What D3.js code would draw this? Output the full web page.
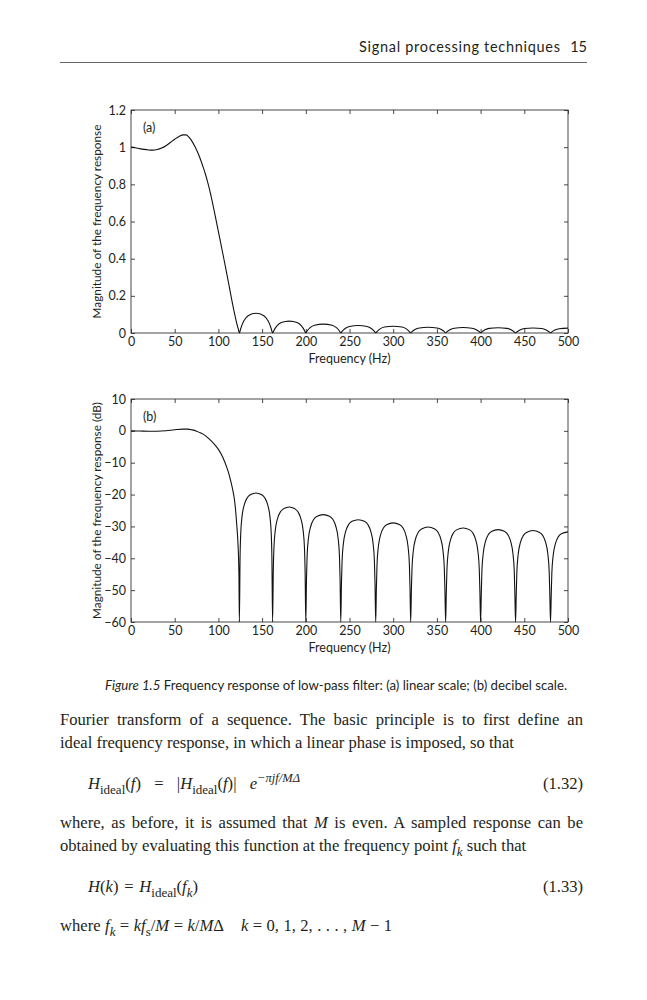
<!DOCTYPE html>
<html><head><meta charset="utf-8">
<script src="https://cdn.jsdelivr.net/npm/d3@7"></script>
<style>
body{margin:0;background:#fff;}
svg{display:block;}
</style></head><body>
<svg id="page" width="647" height="1000"></svg>
<script>
// ---------------- data ----------------
const xTicks = [0, 50, 100, 150, 200, 250, 300, 350, 400, 450, 500];
const yTicksLin = [0, 0.2, 0.4, 0.6, 0.8, 1, 1.2];
const yTicksDb = [10, 0, -10, -20, -30, -40, -50, -60];

// (a) linear magnitude
const freqLin = [0,5,10,15,20,25,30,35,40,45,50,55,60,63,67,70,73,76,79,82,85,88,91,94,97,100,103,106,109,112,115,118,121,123,124,
  125.5,129,134,143,152,157,160.5,162,
  163.5,167,172,181,190,195,198.5,200,
  201.5,205,210,220,230,235,238.5,240,
  241.5,245,250,260,270,275,278.5,280,
  281.5,285,290,300,310,315,318.5,320,
  321.5,325,330,340,350,355,358.5,360,
  361.5,365,370,380,390,395,398.5,400,
  401.5,405,410,420,430,435,438.5,440,
  441.5,445,450,460,470,475,478.5,480,
  481.5,485,490,500];
const magLin = [1.0,0.997,0.992,0.988,0.985,0.984,0.987,0.995,1.008,1.025,1.043,1.058,1.066,1.066,1.05,1.03,1.005,0.975,0.94,0.9,0.857,0.807,0.75,0.684,0.616,0.546,0.475,0.405,0.333,0.26,0.185,0.115,0.052,0.017,0,
  0.023,0.064,0.093,0.106,0.093,0.064,0.023,0,
  0.014,0.038,0.056,0.064,0.056,0.038,0.014,0,
  0.011,0.029,0.042,0.048,0.042,0.029,0.011,0,
  0.009,0.024,0.035,0.040,0.035,0.024,0.009,0,
  0.008,0.022,0.032,0.036,0.032,0.022,0.008,0,
  0.007,0.019,0.027,0.031,0.027,0.019,0.007,0,
  0.007,0.018,0.026,0.030,0.026,0.018,0.007,0,
  0.006,0.017,0.025,0.028,0.025,0.017,0.006,0,
  0.006,0.016,0.024,0.027,0.024,0.016,0.006,0,
  0.006,0.016,0.023,0.026];

// (b) magnitude in dB
const freqDb = [0,10,20,30,40,50,60,65,70,75,80,85,90,95,100,105,110,113,116,119,121,122.5,123.5,124,
  124.8,125.5,127,129.5,133,137,143,149,153,156.5,159,160.5,161.2,162,
  162.8,163.5,165,167.5,171,175,181,187,191,194.5,197,198.5,199.2,200,
  200.8,201.5,203,205.5,209,213,220,227,231,234.5,237,238.5,239.2,240,
  240.8,241.5,243,245.5,249,253,260,267,271,274.5,277,278.5,279.2,280,
  280.8,281.5,283,285.5,289,293,300,307,311,314.5,317,318.5,319.2,320,
  320.8,321.5,323,325.5,329,333,340,347,351,354.5,357,358.5,359.2,360,
  360.8,361.5,363,365.5,369,373,380,387,391,394.5,397,398.5,399.2,400,
  400.8,401.5,403,405.5,409,413,420,427,431,434.5,437,438.5,439.2,440,
  440.8,441.5,443,445.5,449,453,460,467,471,474.5,477,478.5,479.2,480,
  480.8,481.5,483,485.5,489,493,500];
const magDb = [0,-0.05,-0.12,-0.1,0.05,0.35,0.55,0.55,0.3,-0.1,-0.7,-1.5,-2.7,-4.1,-5.8,-8.3,-11.8,-14.5,-18,-23,-29.5,-36,-45,-60,
  -39.5,-32.5,-27,-23.3,-21,-20,-19.5,-20,-21,-23.3,-27,-32.5,-39.5,-60,
  -43.9,-36.9,-31.4,-27.7,-25.4,-24.4,-23.9,-24.4,-25.4,-27.7,-31.4,-36.9,-43.9,-60,
  -46.3,-39.3,-33.8,-30.1,-27.8,-26.8,-26.3,-26.8,-27.8,-30.1,-33.8,-39.3,-46.3,-60,
  -47.9,-40.9,-35.4,-31.7,-29.4,-28.4,-27.9,-28.4,-29.4,-31.7,-35.4,-40.9,-47.9,-60,
  -48.9,-41.9,-36.4,-32.7,-30.4,-29.4,-28.9,-29.4,-30.4,-32.7,-36.4,-41.9,-48.9,-60,
  -50.2,-43.2,-37.7,-34,-31.7,-30.7,-30.2,-30.7,-31.7,-34,-37.7,-43.2,-50.2,-60,
  -50.5,-43.5,-38,-34.3,-32,-31,-30.5,-31,-32,-34.3,-38,-43.5,-50.5,-60,
  -51,-44,-38.5,-34.8,-32.5,-31.5,-31,-31.5,-32.5,-34.8,-38.5,-44,-51,-60,
  -51.3,-44.3,-38.8,-35.1,-32.8,-31.8,-31.3,-31.8,-32.8,-35.1,-38.8,-44.3,-51.3,-60,
  -51.7,-44.7,-39.2,-35.5,-33.2,-32.2,-31.7];

// ---------------- drawing ----------------
const svg = d3.select("#page");
const INK = "#231f20";
const SANS = "Lato, 'Open Sans', sans-serif";
const SERIF = "'Liberation Serif', 'DejaVu Serif', serif";

svg.append("rect").attr("width",647).attr("height",1000).attr("fill","#fff");

// running head
svg.append("text").attr("x",359).attr("y",52).attr("font-family",SANS).attr("font-size",14.5)
  .attr("fill",INK).attr("textLength",201).attr("lengthAdjust","spacing").text("Signal processing techniques");
svg.append("text").attr("x",587).attr("y",52).attr("text-anchor","end").attr("font-family",SANS)
  .attr("font-size",14.5).attr("fill",INK).text("15");
svg.append("line").attr("x1",60).attr("x2",587).attr("y1",62.5).attr("y2",62.5)
  .attr("stroke","#555").attr("stroke-width",0.9);

function panel(opt){
  const L=131, R=568, T=opt.top, B=opt.top+223;
  const g = svg.append("g");
  const x = d3.scaleLinear().domain([0,500]).range([L,R]);
  const y = d3.scaleLinear().domain(opt.yDomain).range([B,T]);
  const fs = 12.5;
  const ax = (gen, tr) => {
    const a = g.append("g").attr("transform",tr).call(gen);
    a.select(".domain").remove();
    a.selectAll(".tick line").attr("stroke","#333").attr("stroke-width",0.9);
    a.selectAll("text").attr("font-family",SANS).attr("font-size",fs).attr("fill",INK);
    return a;
  };
  ax(d3.axisBottom(x).tickValues(xTicks).tickSize(-4).tickPadding(4).tickFormat(d3.format("d")), `translate(0,${B})`);
  ax(d3.axisTop(x).tickValues(xTicks).tickSize(-4).tickFormat(""), `translate(0,${T})`);
  ax(d3.axisLeft(y).tickValues(opt.yTicks).tickSize(-4).tickPadding(5).tickFormat(opt.fmt), `translate(${L},0)`);
  ax(d3.axisRight(y).tickValues(opt.yTicks).tickSize(-4).tickFormat(""), `translate(${R},0)`);
  g.append("rect").attr("x",L).attr("y",T).attr("width",R-L).attr("height",B-T)
    .attr("fill","none").attr("stroke","#333").attr("stroke-width",0.9);
  const cid = "clip"+opt.id;
  svg.append("clipPath").attr("id",cid).append("rect").attr("x",L).attr("y",T).attr("width",R-L).attr("height",B-T+0.5);
  const line = d3.line().x(i=>x(opt.fx[i])).y(i=>y(opt.fy[i])).curve(d3.curveMonotoneX);
  g.append("path").attr("clip-path",`url(#${cid})`).attr("d",line(d3.range(opt.fx.length)))
    .attr("fill","none").attr("stroke","#111").attr("stroke-width",1.1);
  g.append("text").attr("x",143).attr("y",T+22).attr("font-family",SANS).attr("font-size",fs).attr("fill",INK).text(opt.tag);
  g.append("text").attr("x",(L+R)/2).attr("y",B+30).attr("text-anchor","middle")
    .attr("font-family",SANS).attr("font-size",fs).attr("fill",INK).text("Frequency (Hz)");
  g.append("text").attr("transform",`translate(101,${(T+B)/2}) rotate(-90)`).attr("text-anchor","middle")
    .attr("font-family",SANS).attr("font-size",11.8).attr("fill",INK).text(opt.ylabel);
}

panel({id:"a", top:110, yDomain:[0,1.2], yTicks:yTicksLin, fmt:d3.format("~g"),
  fx:freqLin, fy:magLin, tag:"(a)", ylabel:"Magnitude of the frequency response"});
panel({id:"b", top:399, yDomain:[-60,10], yTicks:yTicksDb, fmt:d3.format("d"),
  fx:freqDb, fy:magDb, tag:"(b)", ylabel:"Magnitude of the frequency response (dB)"});

// caption
const cap = svg.append("text").attr("x",105).attr("y",690).attr("font-family",SANS).attr("font-size",13.2).attr("fill",INK);
cap.append("tspan").attr("font-style","italic").text("Figure  1.5");
cap.append("tspan").text(" Frequency response of low-pass filter: (a) linear scale; (b) decibel scale.");

// body text
const BODY = 16.6;
function rich(x, y, segs, opt={}){
  const t = svg.append("text").attr("x",x).attr("y",y).attr("font-family",SERIF)
    .attr("font-size",BODY).attr("fill",INK).attr("xml:space","preserve");
  let shift=0;
  segs.forEach(s=>{
    const sp = t.append("tspan").text(s.t);
    const sh = s.sub?4.5:(s.sup?-7:0);
    if(sh!==shift){ sp.attr("dy",sh-shift); shift=sh; }
    if(s.it) sp.attr("font-style","italic");
    if(s.sub||s.sup) sp.attr("font-size",s.sup?12.5:13);
  });
  if(opt.anchor) t.attr("text-anchor",opt.anchor);
  const full = segs.map(s=>s.t).join("");
  if(opt.justify){
    const w = t.node().getComputedTextLength();
    const n = (full.match(/ /g)||[]).length;
    t.attr("word-spacing",(opt.justify - w)/n);
  }
  return t;
}
const P = s=>({t:s}), I = s=>({t:s,it:true}), S=(s,it)=>({t:s,sub:true,it:!!it}), U=s=>({t:s,sup:true,it:true});

rich(60,725,[P("Fourier transform of a sequence. The basic principle is to first define an")],{justify:523});
rich(60,748,[P("ideal frequency response, in which a linear phase is imposed, so that")]);
rich(88,789,[I("H"),S("ideal"),P("("),I("f"),P(") = |"),I("H"),S("ideal"),P("("),I("f"),P(")| "),I("e"),U("−πjf/MΔ")],{justify:212});
rich(583,789,[P("(1.32)")],{anchor:"end"});
rich(60,828,[P("where, as before, it is assumed that "),I("M"),P(" is even. A sampled response can be")],{justify:523});
rich(60,851,[P("obtained by evaluating this function at the frequency point "),I("f"),S("k",true),P(" such that")]);
rich(88,892,[I("H"),P("("),I("k"),P(") = "),I("H"),S("ideal"),P("("),I("f"),S("k",true),P(")")],{justify:110});
rich(583,892,[P("(1.33)")],{anchor:"end"});
rich(60,931,[P("where "),I("f"),S("k",true),P(" = "),I("kf"),S("s"),P("/"),I("M"),P(" = "),I("k"),P("/"),I("M"),P("Δ    "),I("k"),P(" = 0, 1, 2, . . . , "),I("M"),P(" − 1")],{justify:332});
</script>
</body></html>
